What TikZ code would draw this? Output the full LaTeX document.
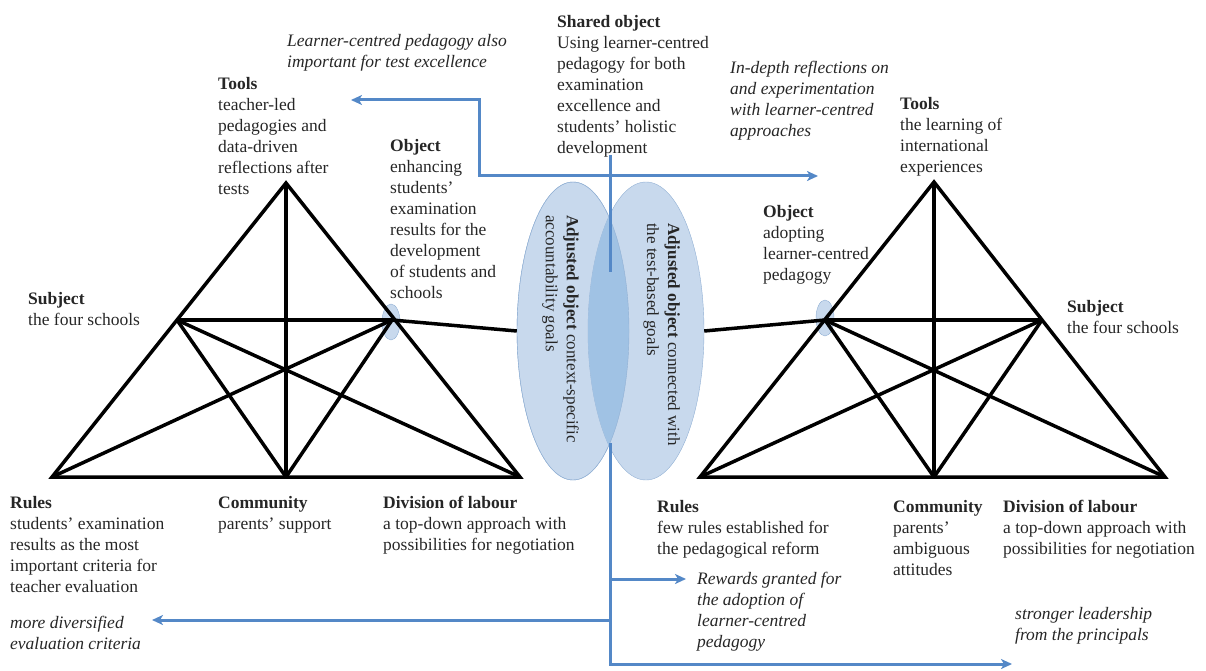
\documentclass[tikz,border=0pt]{standalone}
\usepackage{fontspec}
\setmainfont{Liberation Serif}
\usetikzlibrary{arrows.meta}
\usetikzlibrary{shapes.geometric}
\definecolor{flowblue}{RGB}{84,136,199}
\definecolor{ovalfill}{RGB}{200,217,237}
\definecolor{ovaldraw}{RGB}{145,176,212}
\definecolor{lensfill}{RGB}{160,194,228}
\newcommand{\txtsize}{\fontsize{17.5}{21}\selectfont}

\begin{document}
\begin{tikzpicture}[x=1pt,y=-1pt,
    lbl/.style={anchor=north west,align=left,inner sep=0pt,text=black!85,font=\txtsize},
    note/.style={lbl,font=\txtsize\itshape},
    oval/.style={ellipse,draw=ovaldraw,fill=ovalfill,inner sep=0pt},
    flow/.style={draw=flowblue,line width=3pt},
    >={Stealth[length=11pt,width=10pt,inset=3pt]}]
    \useasboundingbox (0,0) rectangle (1206,671);

    % left activity system
    \coordinate (T1) at (286,183);
    \coordinate (R1) at (52,477);
    \coordinate (C1) at (286,477);
    \coordinate (D1) at (520,477);
    \coordinate (S1) at (177,320);
    \coordinate (O1) at (392,320);
    % right activity system
    \coordinate (T2) at (934,182);
    \coordinate (R2) at (700,477);
    \coordinate (C2) at (934,477);
    \coordinate (D2) at (1165,477);
    \coordinate (O2) at (825,320);
    \coordinate (S2) at (1042,320);

    % adjusted objects
    \node[oval,minimum width=112,minimum height=298] (G1) at (573,331) {};
    \node[oval,minimum width=116,minimum height=298] (G2) at (646,331) {};
    \begin{scope}
        \clip (573,331) ellipse [x radius=56,y radius=149];
        \fill[lensfill] (646,331) ellipse [x radius=58,y radius=149];
    \end{scope}
    \draw[ovaldraw] (573,331) ellipse [x radius=56,y radius=149];
    \node[oval,minimum width=18,minimum height=36] (E1) at (391,322) {};
    \node[oval,minimum width=18,minimum height=36] (E2) at (825,318) {};

    \node[lbl,rotate=-90,font=\fontsize{17}{21}\selectfont] (G1txt) at (579,215) {\textbf{Adjusted object} context-specific\\accountability goals};
    \node[lbl,rotate=-90,font=\fontsize{17}{21}\selectfont] (G2txt) at (680,223) {\textbf{Adjusted object} connected with\\the test-based goals};

    % triangles
    \begin{scope}[every edge/.style={draw=black,line width=3.5pt}]
        \draw[line width=3.5pt] (T1) -- (R1) -- (D1) -- cycle;
        \draw[line width=3.5pt] (T2) -- (R2) -- (D2) -- cycle;
        \path (T1) edge (C1) (S1) edge (O1) (S1) edge (D1) (O1) edge (R1)
              (S1) edge (C1) (O1) edge (C1);
        \path (T2) edge (C2) (O2) edge (S2) (S2) edge (R2) (O2) edge (D2)
              (S2) edge (C2) (O2) edge (C2);
        \path (O1) edge (G1.west) (G2.east) edge (O2);
    \end{scope}

    % flows
    \coordinate (toTools) at (351,100);
    \coordinate (bend) at (479,176);
    \coordinate (toRefl) at (818,176);
    \coordinate (shTop) at (610,155);
    \coordinate (shEnd) at (610,272);
    \coordinate (lensFoot) at (610,443);
    \coordinate (rwJoin) at (610,579);
    \coordinate (toRewards) at (686,579);
    \coordinate (evJoin) at (610,620);
    \coordinate (toEval) at (152,620);
    \coordinate (foot) at (610,664);
    \coordinate (toLead) at (1012,664);
    \draw[flow,<->] (toTools) -| (bend) -- (toRefl);
    \draw[flow] (shTop) -- (shEnd);
    \draw[flow,->] (lensFoot) -- (foot) -- (toLead);
    \draw[flow,->] (rwJoin) -- (toRewards);
    \draw[flow,->] (evJoin) -- (toEval);

    % texts
    \node[note] (n1) at (287,34) {Learner-centred pedagogy also\\important for test excellence};
    \node[lbl] (tools1) at (218,77) {\textbf{Tools}\\teacher-led\\pedagogies and\\data-driven\\reflections after\\tests};
    \node[lbl] (obj1) at (390,139) {\textbf{Object}\\enhancing\\students'\\examination\\results for the\\development\\of students and\\schools};
    \node[lbl] (subj1) at (28,292) {\textbf{Subject}\\the four schools};
    \node[lbl] (shared) at (557,15) {\textbf{Shared object}\\Using learner-centred\\pedagogy for both\\examination\\excellence and\\students' holistic\\development};
    \node[note] (n2) at (730,61) {In-depth reflections on\\and experimentation\\with learner-centred\\approaches};
    \node[lbl] (tools2) at (900,97) {\textbf{Tools}\\the learning of\\international\\experiences};
    \node[lbl] (obj2) at (763,205) {\textbf{Object}\\adopting\\learner-centred\\pedagogy};
    \node[lbl] (subj2) at (1067,300) {\textbf{Subject}\\the four schools};
    \node[lbl] (rules1) at (10,496) {\textbf{Rules}\\students' examination\\results as the most\\important criteria for\\teacher evaluation};
    \node[lbl] (comm1) at (218,496) {\textbf{Community}\\parents' support};
    \node[lbl] (div1) at (383,496) {\textbf{Division of labour}\\a top-down approach with\\possibilities for negotiation};
    \node[note] (n3) at (10,616) {more diversified\\evaluation criteria};
    \node[lbl] (rules2) at (657,500) {\textbf{Rules}\\few rules established for\\the pedagogical reform};
    \node[lbl] (comm2) at (893,500) {\textbf{Community}\\parents'\\ambiguous\\attitudes};
    \node[lbl] (div2) at (1003,500) {\textbf{Division of labour}\\a top-down approach with\\possibilities for negotiation};
    \node[note] (n4) at (697,572) {Rewards granted for\\the adoption of\\learner-centred\\pedagogy};
    \node[note] (n5) at (1015,607) {stronger leadership\\from the principals};
\end{tikzpicture}
\end{document}
